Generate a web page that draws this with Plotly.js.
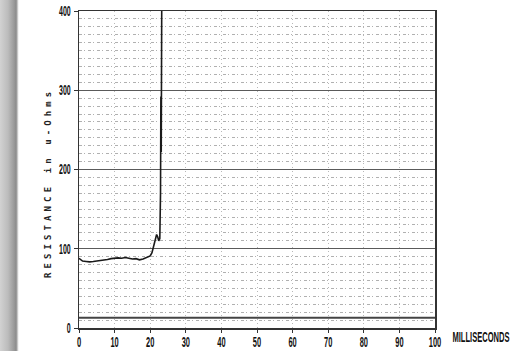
<!DOCTYPE html>
<html>
<head>
<meta charset="utf-8">
<script src="https://cdn.plot.ly/plotly-3.0.1.min.js"></script>
<style>
  html, body { margin: 0; padding: 0; background: #ffffff; }
  #wrap { position: relative; width: 518px; height: 351px; overflow: hidden; }
  #chart { position: absolute; left: 0; top: 0; width: 518px; height: 351px; }
  #shadow { position: absolute; left: 0; top: 0; width: 19px; height: 351px; z-index: 5;
    background: linear-gradient(to right, #d2d2d2 0px, #bcbcbc 8px, #9a9a9a 14px, #8c8c8c 16px, #a8a8a8 17px, #e6e6e6 18px, #ffffff 19px); }
  .annotation[data-index="0"] text { letter-spacing: 4.1px; }
  .annotation[data-index="1"] text { transform-box: fill-box; transform-origin: center; transform: scale(0.84, 1.6); }
</style>
</head>
<body>
<div id="wrap">
  <div id="chart"></div>
  <div id="shadow"></div>
</div>
<script>
// Resistance trace (milliseconds vs micro-ohms)
var timeMs = [0, 0.5, 1, 2, 3, 4, 5, 6, 7, 8, 9, 10, 11, 12, 13, 14, 15, 16, 17, 18, 19, 20, 20.5, 21, 21.5, 21.8, 22.1, 22.4, 22.7, 22.9, 23.0, 23.1, 23.25];
var resistance = [88, 86, 84.5, 84, 83.5, 84, 84.5, 85, 85.5, 86.5, 87.5, 88, 88.5, 88, 89, 88, 87, 87.5, 86, 87, 89, 91, 95, 103, 111, 118, 115, 110, 113, 170, 292, 222, 420];

// Baseline trace
var baseTime = [0, 100];
var baseValue = [13, 13];

var xTickVals = [0, 10, 20, 30, 40, 50, 60, 70, 80, 90, 100];
var yTickVals = [0, 100, 200, 300, 400];

var yTitle = 'RESISTANCE in u-Ohms';
var xTitle = 'MILLISECONDS';

var fam = '"Liberation Sans", "DejaVu Sans", sans-serif';
var xTickFont = { family: fam, size: 15, color: '#111', weight: 'bold' };
var yTickFont = { family: fam, size: 14, color: '#111', weight: 'bold' };

var traces = [
  { x: baseTime, y: baseValue, type: 'scatter', mode: 'lines', line: { color: '#444', width: 2 }, hoverinfo: 'skip' },
  { x: timeMs, y: resistance, type: 'scatter', mode: 'lines', line: { color: '#1a1a1a', width: 1.6, shape: 'linear' }, hoverinfo: 'skip' }
];

var layout = {
  width: 518, height: 351,
  margin: { l: 79, r: 83, t: 11, b: 23 },
  paper_bgcolor: '#ffffff', plot_bgcolor: '#ffffff',
  showlegend: false,
  xaxis: {
    range: [0, 100], tickvals: xTickVals, ticktext: xTickVals.map(String),
    showgrid: true, gridcolor: '#b8b8b8', gridwidth: 1, griddash: '1px,3px',
    zeroline: false, showline: true, mirror: true, linecolor: '#333', linewidth: 1.5,
    ticks: 'outside', ticklen: 3, tickcolor: '#333', tickfont: xTickFont,
    fixedrange: true
  },
  yaxis: {
    range: [0, 400], tickvals: yTickVals, ticktext: yTickVals.map(String),
    showgrid: true, gridcolor: '#5a5a5a', gridwidth: 1.3,
    minor: { dtick: 10, showgrid: true, gridcolor: '#b0b0b0', gridwidth: 1, griddash: '3px,2px,1px,3px' },
    zeroline: false, showline: true, mirror: true, linecolor: '#333', linewidth: 1.5,
    ticks: 'outside', ticklen: 4, tickcolor: '#333', tickfont: yTickFont,
    fixedrange: true
  },
  annotations: [
    { text: yTitle, xref: 'paper', yref: 'paper', x: -0.087, y: 0.4574, xanchor: 'center', yanchor: 'middle',
      textangle: -90, showarrow: false,
      font: { family: '"DejaVu Sans Mono", monospace', size: 9, color: '#222', weight: 'bold' } },
    { text: xTitle, xref: 'paper', yref: 'paper', x: 1.1306, y: -0.028, xanchor: 'center', yanchor: 'middle',
      showarrow: false, font: { family: fam, size: 9, color: '#111', weight: 'bold' } }
  ]
};

Plotly.newPlot('chart', traces, layout, { staticPlot: true, displayModeBar: false }).then(function (gd) {
  // condense the tick-label glyphs, like the narrow plotter font of the original
  gd.querySelectorAll('.xtick text, .ytick text').forEach(function (t) {
    var w = t.getComputedTextLength();
    t.setAttribute('textLength', (w * 0.5).toFixed(1));
    t.setAttribute('lengthAdjust', 'spacingAndGlyphs');
  });
  // x tick labels sit a little closer to the axis in the original
  gd.querySelectorAll('.xtick text').forEach(function (t) {
    var y = parseFloat(t.getAttribute('y'));
    if (!isNaN(y)) t.setAttribute('y', (y - 4).toFixed(1));
  });
});
</script>
</body>
</html>
